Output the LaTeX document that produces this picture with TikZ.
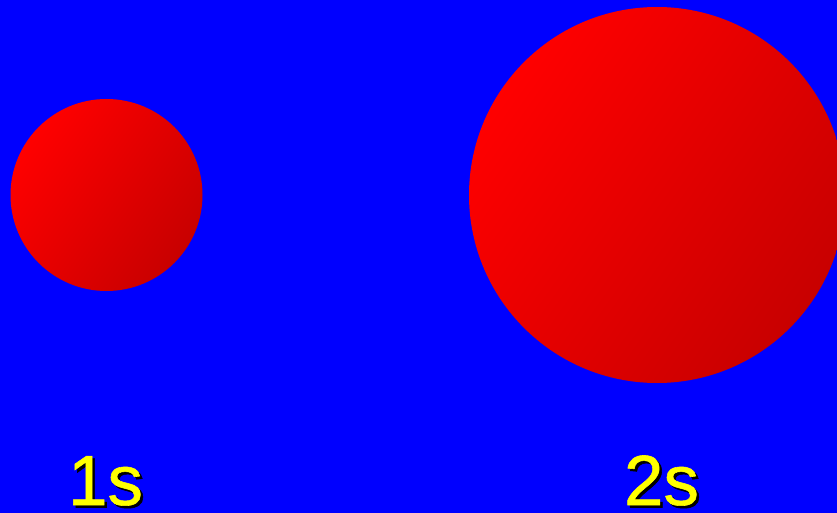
\documentclass[tikz,border=0pt]{standalone}
\usepackage{fontspec}
\setmainfont{Liberation Sans}
\newfontfamily\lblfont[FakeBold=0.8]{Liberation Sans}
\usepackage{xcolor}
\usetikzlibrary{positioning}
\definecolor{bgblue}{RGB}{0,0,255}
\definecolor{balllight}{RGB}{255,0,0}
\definecolor{balldark}{RGB}{200,0,0}
\definecolor{lblyellow}{RGB}{255,255,0}

\begin{document}
\begin{tikzpicture}[
  x=1pt, y=1pt,
  ball/.style = {circle, inner sep=0pt, top color=balllight,
                 bottom color=balldark, shading angle=55},
  lbl/.style  = {font=\lblfont\fontsize{71}{71}\selectfont, text=lblyellow,
                 anchor=base, inner sep=0pt},
  shd/.style  = {font=\lblfont\fontsize{71}{71}\selectfont, text=black,
                 anchor=base, inner sep=0pt}
]

% ---------- background -----------------------------------------------------
\fill[bgblue] (0,0) rectangle (837,-513);
\useasboundingbox (0,0) rectangle (837,-513);

% ---------- orbitals -------------------------------------------------------
\node[ball, minimum size=192] (s1) at (106.5,-195) {};
\node[ball, minimum size=376] (s2) at (657,-195) {};

% ---------- labels ---------------------------------------------------------
\node[shd] (s1sh) at (108,-507.5) {1s};
\node[lbl] (s1lbl) at (105.5,-505) {1s};

\node[shd] (s2sh) at (664,-507.5) {2s};
\node[lbl] (s2lbl) at (661.5,-505) {2s};

\end{tikzpicture}
\end{document}
